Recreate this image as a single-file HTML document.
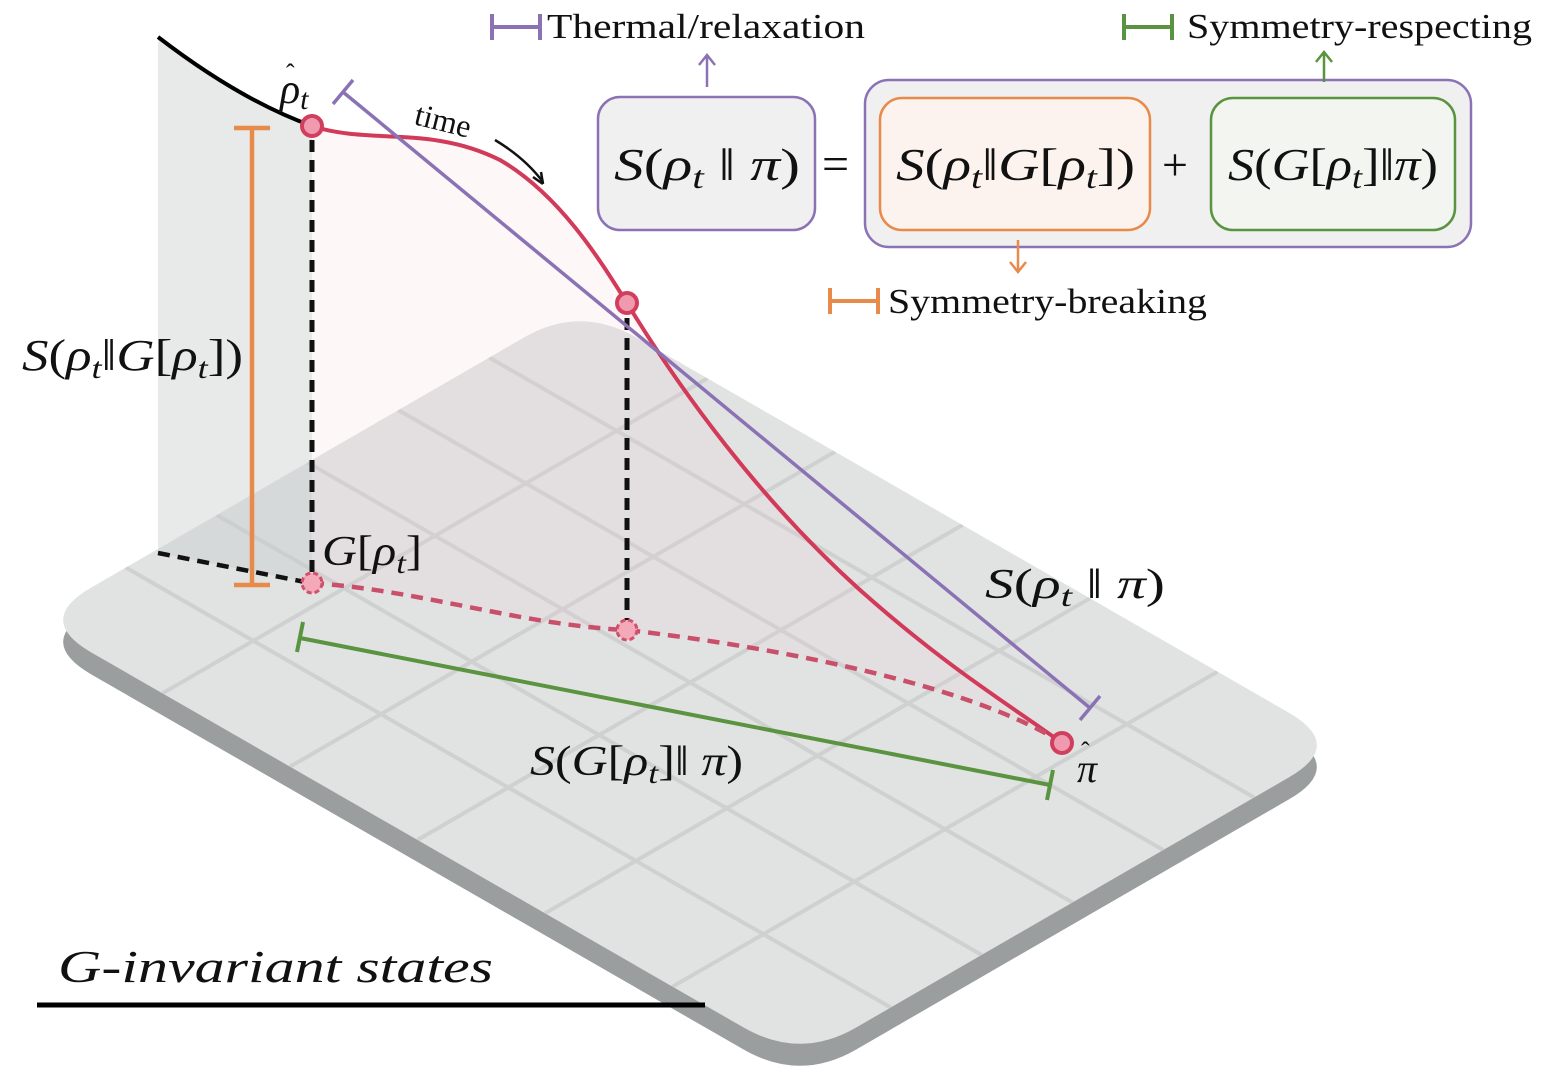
<!DOCTYPE html>
<html><head><meta charset="utf-8"><style>
html,body{margin:0;padding:0;background:#fff;}
svg{display:block;}
text{font-family:"Liberation Serif","DejaVu Serif",serif;fill:#111;}
.m{font-style:italic;}
</style></head><body>
<svg width="1557" height="1087" viewBox="0 0 1557 1087" xmlns="http://www.w3.org/2000/svg">
<defs>
<clipPath id="pc"><path d="M636.6,337.6 L1288.4,712.4 Q1345,745 1288.9,777.4 L856,1027.6 Q800,1060 743.4,1027.4 L91.6,652.6 Q35,620 91.1,587.6 L524,337.5 Q580,305 636.6,337.6 Z"/></clipPath>
</defs>
<!-- plane thickness -->
<path transform="translate(0,22)" fill="#9a9e9f" d="M636.6,337.6 L1288.4,712.4 Q1345,745 1288.9,777.4 L856,1027.6 Q800,1060 743.4,1027.4 L91.6,652.6 Q35,620 91.1,587.6 L524,337.5 Q580,305 636.6,337.6 Z"/>
<!-- plane top -->
<path fill="#e1e2e2" d="M636.6,337.6 L1288.4,712.4 Q1345,745 1288.9,777.4 L856,1027.6 Q800,1060 743.4,1027.4 L91.6,652.6 Q35,620 91.1,587.6 L524,337.5 Q580,305 636.6,337.6 Z"/>
<g clip-path="url(#pc)" stroke="#cfd0d0" stroke-width="4">
<line x1="125.8" y1="567.5" x2="890.8" y2="1007.5"/>
<line x1="216.7" y1="515" x2="981.7" y2="955"/>
<line x1="307.5" y1="462.5" x2="1072.5" y2="902.5"/>
<line x1="398.3" y1="410" x2="1163.3" y2="850"/>
<line x1="489.2" y1="357.5" x2="1254.2" y2="797.5"/>
<line x1="162.5" y1="693.3" x2="707.5" y2="378.3"/>
<line x1="290" y1="766.7" x2="835" y2="451.7"/>
<line x1="417.5" y1="840" x2="962.5" y2="525"/>
<line x1="545" y1="913.3" x2="1090" y2="598.3"/>
<line x1="672.5" y1="986.7" x2="1217.5" y2="671.7"/>
</g>
<!-- wall -->
<path d="M158,37 Q240,100 312,126 L312,583 L158,553 Z" fill="rgba(200,204,205,0.42)"/>
<path d="M158,37 Q240,100 312,126" fill="none" stroke="#000" stroke-width="4"/>
<!-- pink region -->
<path d="M312,126 C370,145 430,125 500,160 C560,195 600,260 627,303 C680,390 760,500 860,590 C950,670 1010,705 1062,743 C980,690 800,650 627,630 C520,625 420,590 312,583 Z" fill="rgba(245,205,210,0.16)"/>
<!-- dashed black -->
<line x1="158" y1="553" x2="305" y2="582" stroke="#111" stroke-width="4.5" stroke-dasharray="12,8"/>
<line x1="312" y1="140" x2="312" y2="575" stroke="#111" stroke-width="5" stroke-dasharray="12,8"/>
<line x1="627" y1="318" x2="627" y2="622" stroke="#111" stroke-width="5" stroke-dasharray="12,8"/>
<!-- orange -->
<g stroke="#e88a4a" stroke-width="4.5" fill="none">
<line x1="252" y1="128" x2="252" y2="585"/>
<line x1="234" y1="128" x2="270" y2="128"/>
<line x1="234" y1="585" x2="270" y2="585"/>
</g>
<!-- red curves -->
<path d="M312,126 C370,145 430,125 500,160 C560,195 600,260 627,303 C680,390 760,500 860,590 C950,670 1010,705 1062,743" fill="none" stroke="#d23a5a" stroke-width="4"/>
<path d="M312,583 C420,590 520,625 627,630 C800,650 980,690 1062,743" fill="none" stroke="#c8506a" stroke-width="4.5" stroke-dasharray="12,8"/>
<!-- purple -->
<g stroke="#8a72b4" stroke-width="3.5">
<line x1="343" y1="92" x2="1090" y2="708"/>
<line x1="333" y1="104" x2="353" y2="80"/>
<line x1="1080" y1="720" x2="1100" y2="696"/>
</g>
<!-- green -->
<g stroke="#5a9440" stroke-width="4">
<line x1="300" y1="638" x2="1050" y2="785"/>
<line x1="303" y1="622" x2="297" y2="652"/>
<line x1="1053" y1="770" x2="1047" y2="800"/>
</g>
<!-- circles -->
<g fill="#ef9aae" stroke="#d0405e" stroke-width="4">
<circle cx="312" cy="126" r="10"/>
<circle cx="627" cy="303" r="10"/>
<circle cx="1062" cy="743" r="10"/>
</g>
<g fill="#f3a9b8" stroke="#d0506e" stroke-width="3" stroke-dasharray="5,3">
<circle cx="312" cy="583" r="10"/>
<circle cx="627" cy="630" r="10"/>
</g>
<!-- time arrow -->
<path d="M495,140 Q525,158 543,182" fill="none" stroke="#111" stroke-width="2.5"/>
<path d="M543,184 L533,177 M543,184 L541,172" stroke="#111" stroke-width="2.5"/>
<text x="413" y="124" font-size="32" transform="rotate(14 413 124)">time</text>
<!-- labels -->
<text class="m" x="280" y="103" font-size="42">ρ<tspan font-size="30" dy="6">t</tspan></text>
<text x="286" y="82" font-size="26">ˆ</text>
<text class="m" x="22" y="370" font-size="44" textLength="221" lengthAdjust="spacingAndGlyphs">S<tspan font-style="normal">(</tspan>ρ<tspan font-size="30" dy="8">t</tspan><tspan dy="-8" font-style="normal">‖</tspan>G<tspan font-style="normal">[</tspan>ρ<tspan font-size="30" dy="8">t</tspan><tspan dy="-8" font-style="normal">])</tspan></text>
<text class="m" x="322" y="565" font-size="42" textLength="100" lengthAdjust="spacingAndGlyphs">G<tspan font-style="normal">[</tspan>ρ<tspan font-size="30" dy="8">t</tspan><tspan dy="-8" font-style="normal">]</tspan></text>
<text class="m" x="985" y="598" font-size="42" textLength="180" lengthAdjust="spacingAndGlyphs">S<tspan font-style="normal">(</tspan>ρ<tspan font-size="30" dy="8">t</tspan><tspan dy="-8" font-style="normal"> ‖ </tspan>π<tspan font-style="normal">)</tspan></text>
<text class="m" x="1077" y="782" font-size="40">π</text>
<text x="1081" y="760" font-size="26">ˆ</text>
<text class="m" x="530" y="775" font-size="42" textLength="213" lengthAdjust="spacingAndGlyphs">S<tspan font-style="normal">(</tspan>G<tspan font-style="normal">[</tspan>ρ<tspan font-size="30" dy="8">t</tspan><tspan dy="-8" font-style="normal">]‖ </tspan>π<tspan font-style="normal">)</tspan></text>
<text class="m" x="58" y="982" font-size="46" textLength="435" lengthAdjust="spacingAndGlyphs">G-invariant states</text>
<line x1="37" y1="1005" x2="705" y2="1005" stroke="#000" stroke-width="5"/>
<!-- boxes -->
<rect x="598" y="97" width="217" height="133" rx="22" fill="#f0f0f1" stroke="#8a72b4" stroke-width="2.5"/>
<rect x="865" y="80" width="606" height="167" rx="24" fill="#f0f0f1" stroke="#8a72b4" stroke-width="2.5"/>
<rect x="880" y="98" width="270" height="132" rx="22" fill="#fdf3ee" stroke="#e88a4a" stroke-width="2.5"/>
<rect x="1211" y="98" width="244" height="132" rx="22" fill="#f2f5f0" stroke="#5a9440" stroke-width="2.5"/>
<text class="m" x="614" y="180" font-size="46" textLength="186" lengthAdjust="spacingAndGlyphs">S<tspan font-style="normal">(</tspan>ρ<tspan font-size="32" dy="8">t</tspan><tspan dy="-8" font-style="normal"> ‖ </tspan>π<tspan font-style="normal">)</tspan></text>
<text x="822" y="180" font-size="48">=</text>
<text class="m" x="896" y="180" font-size="46" textLength="239" lengthAdjust="spacingAndGlyphs">S<tspan font-style="normal">(</tspan>ρ<tspan font-size="32" dy="8">t</tspan><tspan dy="-8" font-style="normal">‖</tspan>G<tspan font-style="normal">[</tspan>ρ<tspan font-size="32" dy="8">t</tspan><tspan dy="-8" font-style="normal">])</tspan></text>
<text x="1162" y="180" font-size="46">+</text>
<text class="m" x="1228" y="180" font-size="46" textLength="210" lengthAdjust="spacingAndGlyphs">S<tspan font-style="normal">(</tspan>G<tspan font-style="normal">[</tspan>ρ<tspan font-size="32" dy="8">t</tspan><tspan dy="-8" font-style="normal">]‖</tspan>π<tspan font-style="normal">)</tspan></text>
<!-- arrows -->
<g stroke-width="2.5" fill="none">
<path d="M707,87 L707,55 M699,65 L707,55 L715,65" stroke="#8a72b4"/>
<path d="M1324,82 L1324,52 M1316,62 L1324,52 L1332,62" stroke="#5a9440"/>
<path d="M1018,240 L1018,272 M1010,262 L1018,272 L1026,262" stroke="#e88a4a"/>
</g>
<!-- legends -->
<g stroke-width="4" fill="none">
<path d="M492,14 V40 M492,27 H540 M540,14 V40" stroke="#8a72b4"/>
<path d="M1124,14 V40 M1124,27 H1172 M1172,14 V40" stroke="#5a9440"/>
<path d="M830,288 V314 M830,301 H878 M878,288 V314" stroke="#e88a4a"/>
</g>
<text x="547" y="38" font-size="35" textLength="318" lengthAdjust="spacingAndGlyphs">Thermal/relaxation</text>
<text x="1187" y="38" font-size="35" textLength="345" lengthAdjust="spacingAndGlyphs">Symmetry-respecting</text>
<text x="888" y="313" font-size="35" textLength="319" lengthAdjust="spacingAndGlyphs">Symmetry-breaking</text>
</svg>
</body></html>
